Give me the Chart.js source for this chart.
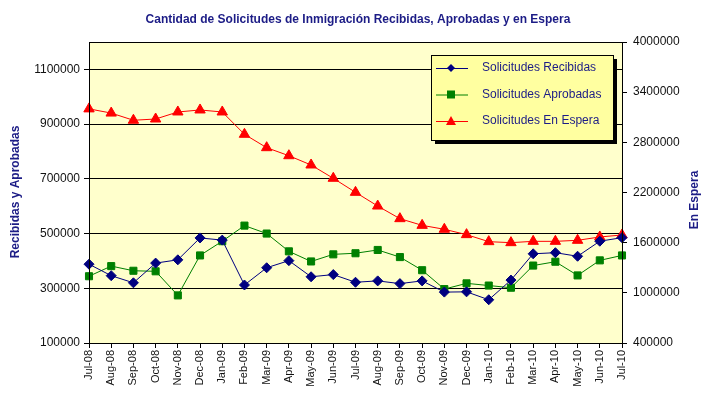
<!DOCTYPE html>
<html>
<head>
<meta charset="utf-8">
<script src="https://cdn.jsdelivr.net/npm/chart.js@4"></script>
<style>
  html, body { margin: 0; padding: 0; background: #fff; }
  #wrap { width: 711px; height: 397px; position: relative; }
</style>
</head>
<body>
<div id="wrap"><canvas id="chart1"></canvas></div>
<script>
const months = ['Jul-08','Aug-08','Sep-08','Oct-08','Nov-08','Dec-08','Jan-09','Feb-09','Mar-09','Apr-09','May-09','Jun-09',
  'Jul-09','Aug-09','Sep-09','Oct-09','Nov-09','Dec-09','Jan-10','Feb-10','Mar-10','Apr-10','May-10','Jun-10','Jul-10'];

const recibidas = [388000, 346000, 320000, 392000, 404000, 484000, 476000, 312000, 375000, 401000, 342000, 350000,
  322000, 327000, 317000, 327000, 286000, 287000, 258000, 330000, 426000, 430000, 417000, 472000, 485000];

const aprobadas = [344000, 381000, 364000, 362000, 274000, 420000, 472000, 529000, 500000, 435000, 398000, 424000,
  428000, 440000, 414000, 366000, 297000, 318000, 310000, 302000, 383000, 397000, 347000, 402000, 420000];

const enEspera = [3200000, 3150000, 3064000, 3079000, 3163000, 3187000, 3163000, 2896000, 2736000, 2640000, 2529000, 2370000,
  2202000, 2038000, 1887000, 1807000, 1760000, 1696000, 1612000, 1600000, 1616000, 1616000, 1628000, 1668000, 1692000];

const leftTicks = [100000, 300000, 500000, 700000, 900000, 1100000];
const rightTicks = [400000, 1000000, 1600000, 2200000, 2800000, 3400000, 4000000];

const navy = '#1c1c86';
const font = 'Liberation Sans, Arial, sans-serif';

// fondo amarillo, borde, titulos y leyenda
const decor = {
  id: 'decor',
  beforeDraw(chart) {
    const ctx = chart.ctx, a = chart.chartArea;
    ctx.save();
    ctx.fillStyle = '#ffffcc';
    ctx.fillRect(a.left, a.top, a.right - a.left, a.bottom - a.top);
    ctx.restore();
  },
  afterDraw(chart) {
    const ctx = chart.ctx, a = chart.chartArea;
    ctx.save();
    ctx.strokeStyle = '#000';
    ctx.lineWidth = 1;
    ctx.strokeRect(a.left + 0.5, a.top + 0.5, a.right - a.left, a.bottom - a.top);

    ctx.fillStyle = navy;
    ctx.font = 'bold 12px ' + font;
    ctx.textAlign = 'center';
    ctx.textBaseline = 'middle';
    ctx.fillText('Cantidad de Solicitudes de Inmigración Recibidas, Aprobadas y en Espera', 358, 20);

    ctx.save();
    ctx.translate(16, 192);
    ctx.rotate(-Math.PI / 2);
    ctx.fillText('Recibidas y Aprobadas', 0, 0);
    ctx.restore();

    ctx.save();
    ctx.translate(695, 200);
    ctx.rotate(-Math.PI / 2);
    ctx.fillText('En Espera', 0, 0);
    ctx.restore();

    // leyenda
    const lx = 431, ly = 55, lw = 182, lh = 85;
    ctx.fillStyle = '#000';
    ctx.fillRect(lx + 4, ly + 4, lw, lh);
    ctx.fillStyle = '#ffffa0';
    ctx.fillRect(lx, ly, lw, lh);
    ctx.strokeStyle = '#000';
    ctx.strokeRect(lx + 0.5, ly + 0.5, lw, lh);
    ctx.font = '12px ' + font;
    ctx.textAlign = 'left';
    chart.data.datasets.forEach((ds, i) => {
      const y = 68 + i * 26.5;
      ctx.strokeStyle = ds.borderColor;
      ctx.lineWidth = 1;
      ctx.beginPath();
      ctx.moveTo(436, y + 0.5);
      ctx.lineTo(468, y + 0.5);
      ctx.stroke();
      ctx.fillStyle = ds.backgroundColor;
      ctx.beginPath();
      if (ds.pointStyle === 'rectRot') {
        ctx.moveTo(451, y - 4); ctx.lineTo(455, y); ctx.lineTo(451, y + 4); ctx.lineTo(447, y);
      } else if (ds.pointStyle === 'rect') {
        ctx.rect(447, y - 4, 8, 8);
      } else {
        ctx.moveTo(451, y - 5); ctx.lineTo(456, y + 4); ctx.lineTo(446, y + 4);
      }
      ctx.closePath();
      ctx.fill();
      ctx.fillStyle = navy;
      ctx.fillText(ds.label, 482, y);
    });
    ctx.restore();
  }
};

const plain = v => String(v);

new Chart(document.getElementById('chart1'), {
  type: 'line',
  data: {
    labels: months,
    datasets: [{
      label: 'Solicitudes Recibidas',
      data: recibidas,
      yAxisID: 'y',
      borderColor: '#000080',
      backgroundColor: '#000080',
      borderWidth: 1,
      pointStyle: 'rectRot',
      pointRadius: 5,
      order: 1
    }, {
      label: 'Solicitudes Aprobadas',
      data: aprobadas,
      yAxisID: 'y',
      borderColor: '#008000',
      backgroundColor: '#008000',
      borderWidth: 1,
      pointStyle: 'rect',
      pointRadius: 5,
      order: 2
    }, {
      label: 'Solicitudes En Espera',
      data: enEspera,
      yAxisID: 'y2',
      borderColor: '#ff0000',
      backgroundColor: '#ff0000',
      borderWidth: 1,
      pointStyle: 'triangle',
      pointRadius: 6,
      order: 3
    }]
  },
  options: {
    responsive: true,
    maintainAspectRatio: false,
    animation: false,
    layout: { padding: { top: 42, left: 0, right: 0, bottom: 0 } },
    plugins: {
      legend: { display: false },
      title: { display: false },
      tooltip: { enabled: false }
    },
    scales: {
      x: {
        offset: false,
        grid: { display: true, drawOnChartArea: false, drawTicks: true, tickLength: 5, color: '#000' },
        border: { color: '#000' },
        ticks: { color: '#111', font: { family: font, size: 11 }, minRotation: 90, maxRotation: 90, autoSkip: false, padding: 2 },
        afterFit(s) { s.height = 54; }
      },
      y: {
        position: 'left',
        min: 100000,
        max: 1200000,
        afterBuildTicks(s) { s.ticks = leftTicks.map(v => ({ value: v })); },
        grid: { color: '#000', tickLength: 5 },
        border: { color: '#000' },
        ticks: { color: '#111', font: { family: font, size: 12 }, padding: 4, callback: plain },
        afterFit(s) { s.width = 89; }
      },
      y2: {
        position: 'right',
        min: 400000,
        max: 4000000,
        afterBuildTicks(s) { s.ticks = rightTicks.map(v => ({ value: v })); },
        grid: { drawOnChartArea: false, color: '#000', tickLength: 5 },
        border: { color: '#000' },
        ticks: { color: '#111', font: { family: font, size: 12 }, padding: 6, callback: plain },
        afterFit(s) { s.width = 89; }
      }
    }
  },
  plugins: [decor]
});
</script>
</body>
</html>
